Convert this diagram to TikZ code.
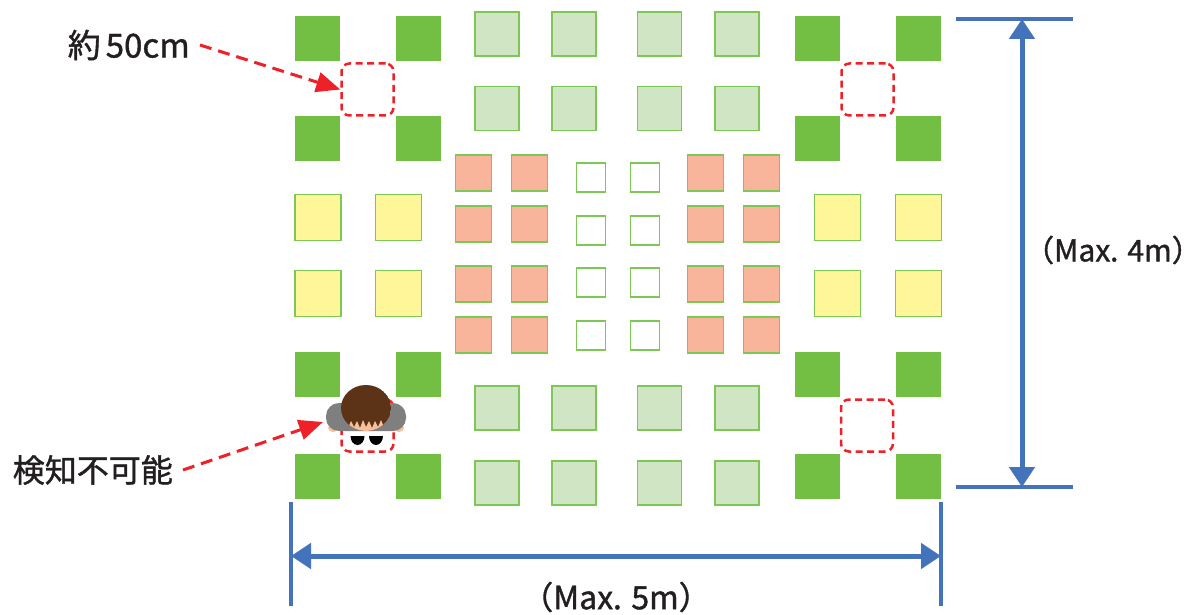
\documentclass[tikz,border=0pt]{standalone}
\usepackage{fontspec}
\setmainfont{Noto Sans CJK JP}
\newfontfamily\lblfont{Noto Sans CJK JP}[FakeBold=1.2]
\usetikzlibrary{arrows.meta}

\definecolor{dgreen}{HTML}{72BF44}
\definecolor{lgfill}{HTML}{CFE5C3}
\definecolor{sqedge}{HTML}{7DC855}
\definecolor{salmon}{HTML}{F8B59B}
\definecolor{ylw}{HTML}{FFF599}
\definecolor{redc}{HTML}{EE2028}
\definecolor{bluec}{HTML}{4373BB}
\definecolor{txt}{HTML}{231F20}
\definecolor{hair}{HTML}{5C3317}
\definecolor{skin}{HTML}{F5C09A}
\definecolor{suit}{HTML}{7F7F7F}

\tikzset{
  darksq/.style={fill=dgreen, draw=none, inner sep=0pt, minimum size=45pt},
  lightsq/.style={fill=lgfill, draw=sqedge, line width=1.5pt, inner sep=0pt, minimum size=44pt},
  yellowsq/.style={fill=ylw, draw=sqedge, line width=1.5pt, inner sep=0pt, minimum size=46pt},
  salmonsq/.style={fill=salmon, draw=sqedge, line width=1.5pt, inner sep=0pt, minimum size=36pt},
  emptysq/.style={fill=white, draw=sqedge, line width=1.5pt, inner sep=0pt, minimum size=29pt},
  gapbox/.style={draw=redc, line width=2.5pt, dash pattern=on 7pt off 4.5pt, rounded corners=8pt, inner sep=0pt, minimum size=52pt},
  redarr/.style={draw=redc, line width=3pt, dash pattern=on 12pt off 7pt, -{Triangle[length=24pt,width=20pt]}},
  dimarr/.style={draw=bluec, line width=5pt, {Triangle[length=20pt,width=25pt]}-{Triangle[length=20pt,width=25pt]}},
  dimline/.style={draw=bluec, line width=4.5pt},
  lbl/.style={text=txt, inner sep=0pt, font=\lblfont\fontsize{32}{38}\selectfont},
}

\begin{document}
\begin{tikzpicture}[x=1pt,y=-1pt]
\useasboundingbox[fill=white] (0,0) rectangle (1203,615);

% outer corner clusters of dark green squares
\foreach \i/\x in {1/317.5,2/418.5,3/817.5,4/918.5}
  \foreach \j/\y in {1/38.5,2/139,3/374.5,4/476}
    \node[darksq] (dg\i\j) at (\x,\y) {};

% light green squares, top and bottom bands
\foreach \i/\x in {1/497,2/574,3/659.5,4/737}
  \foreach \j/\y in {1/34,2/108.5,3/408,4/483}
    \node[lightsq] (lg\i\j) at (\x,\y) {};

% yellow squares at the sides
\foreach \i/\x in {1/318,2/398.5,3/837.5,4/918.5}
  \foreach \j/\y in {1/217.5,2/293.5}
    \node[yellowsq] (ys\i\j) at (\x,\y) {};

% salmon squares in the middle band
\foreach \i/\x in {1/473.5,2/529.5,3/705.5,4/761.5}
  \foreach \j/\y in {1/173,2/224,3/284,4/335}
    \node[salmonsq] (sa\i\j) at (\x,\y) {};

% empty squares in the centre
\foreach \i/\x in {1/591,2/645}
  \foreach \j/\y in {1/177.5,2/230.5,3/282.5,4/335.5}
    \node[emptysq] (em\i\j) at (\x,\y) {};

% dashed gaps between the corner squares
\node[gapbox] (gap1) at (367.5,89.5) {};
\node[gapbox] (gap2) at (867.5,89.5) {};
\node[gapbox] (gap3) at (367.5,425.5) {};
\node[gapbox] (gap4) at (867,425.5) {};

% person seen from above
\fill[black] (350.5,436) arc[start angle=180, end angle=0, x radius=7, y radius=9] -- cycle;
\fill[black] (369,436) arc[start angle=180, end angle=0, x radius=7, y radius=9] -- cycle;
\fill[skin] (333,428) ellipse [x radius=5, y radius=4];
\fill[skin] (399,428) ellipse [x radius=5, y radius=4];
\fill[suit, rounded corners=13pt] (326,403) rectangle (406,431);
\begin{scope}
  \clip (366,408) ellipse [x radius=25, y radius=23];
  \fill[hair] (366,408) ellipse [x radius=25, y radius=23];
  \fill[skin] (340,433) -- (340,425) -- (345,423) -- (348,428) -- (351,421)
    -- (354,427) -- (357,421) -- (360,428) -- (363,420) -- (366,427)
    -- (369,421) -- (372,428) -- (375,421) -- (378,427) -- (381,420)
    -- (384,427) -- (387,422) -- (392,425) -- (392,433) -- cycle;
\end{scope}
\coordinate (person) at (323,422);

% labels and pointers
\node[lbl, anchor=east] (lbl1) at (190,45) {\fontsize{33}{38}\selectfont 約\hspace{5pt}50cm};
\node[lbl, anchor=east] (lbl2) at (173,470) {検知不可能};
\draw[redarr] ([xshift=10pt]lbl1.east) -- (gap1.west);
\draw[redarr] ([xshift=10pt]lbl2.east) -- (person);

% width dimension
\coordinate (wl1) at (291,502);
\coordinate (wl2) at (291,606);
\coordinate (wr1) at (941,502);
\coordinate (wr2) at (941,606);
\draw[dimline] (wl1) -- (wl2);
\draw[dimline] (wr1) -- (wr2);
\coordinate (wa) at (291,556);
\coordinate (wb) at (941,556);
\draw[dimarr] (wa) -- (wb);
\node[lbl] (wlbl) at (616,597) {（Max. 5m）};

% depth dimension
\coordinate (ht1) at (956,19);
\coordinate (ht2) at (1073,19);
\coordinate (hb1) at (956,487);
\coordinate (hb2) at (1073,487);
\draw[dimline] (ht1) -- (ht2);
\draw[dimline] (hb1) -- (hb2);
\coordinate (ha) at (1022,19);
\coordinate (hb) at (1022,487);
\draw[dimarr] (ha) -- (hb);
\node[lbl, anchor=east, font=\lblfont\fontsize{30}{36}\selectfont] (hlbl) at (1202,250) {（Max. 4m）};
\end{tikzpicture}
\end{document}
